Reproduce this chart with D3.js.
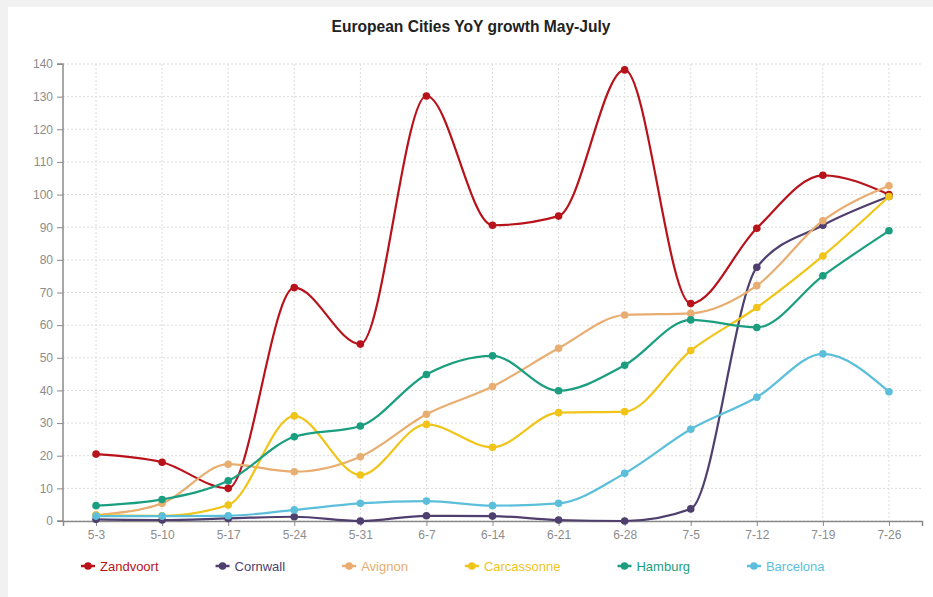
<!DOCTYPE html>
<html>
<head>
<meta charset="utf-8">
<script src="https://cdn.jsdelivr.net/npm/d3@7"></script>
<style>
  html, body { margin: 0; padding: 0; background: #f1f1f1; }
  svg { display: block; font-family: "Liberation Sans", Arial, Helvetica, sans-serif; }
</style>
</head>
<body>
<svg id="chart" width="933" height="597"></svg>
<script>
const categories = ["5-3","5-10","5-17","5-24","5-31","6-7","6-14","6-21","6-28","7-5","7-12","7-19","7-26"];
const seriesNames = ["Zandvoort","Cornwall","Avignon","Carcassonne","Hamburg","Barcelona"];
const seriesColors = ["#b8121b","#4e3f6e","#e8ad70","#f0c419","#1b9e80","#5bbfdc"];
const zandvoort   = [20.5, 18, 10, 71.5, 54.2, 130.2, 90.6, 93.4, 138.2, 66.6, 89.7, 105.9, 100];
const cornwall    = [0.5, 0.3, 0.8, 1.3, 0, 1.6, 1.5, 0.3, 0, 3.7, 77.7, 90.6, 99.4];
const avignon     = [1.8, 5.4, 17.4, 15.1, 19.7, 32.7, 41.2, 52.9, 63.1, 63.6, 72.1, 92, 102.7];
const carcassonne = [1.8, 1.6, 4.9, 32.2, 14.1, 29.6, 22.6, 33.2, 33.5, 52.2, 65.4, 81.2, 99.4];
const hamburg     = [4.7, 6.6, 12.3, 25.8, 29.1, 44.9, 50.6, 39.9, 47.7, 61.6, 59.3, 75.1, 88.9];
const barcelona   = [1.5, 1.5, 1.6, 3.4, 5.4, 6.1, 4.7, 5.4, 14.6, 28.1, 37.9, 51.2, 39.6];
const yTicks = [0,10,20,30,40,50,60,70,80,90,100,110,120,130,140];
const titleText = "European Cities YoY growth May-July";

const seriesValues = [zandvoort, cornwall, avignon, carcassonne, hamburg, barcelona];
const series = seriesNames.map((name, i) => ({ name, color: seriesColors[i], values: seriesValues[i] }));

const svg = d3.select("#chart");
const W = 933, H = 597;
const margin = { left: 63, right: 11, top: 64, bottom: 76 };
const plotW = W - margin.left - margin.right;
const plotH = H - margin.top - margin.bottom;

// background card
svg.append("rect").attr("x", 0).attr("y", 0).attr("width", W).attr("height", H).attr("fill", "#f1f1f1");
svg.append("rect").attr("x", 8).attr("y", 7).attr("width", W - 8).attr("height", H - 7).attr("fill", "#ffffff");

// title
svg.append("text")
  .attr("x", 471).attr("y", 32)
  .attr("text-anchor", "middle")
  .attr("font-size", 15.6).attr("font-weight", "bold")
  .attr("fill", "#222")
  .text(titleText);

const x = d3.scalePoint().domain(categories).range([0, plotW]).padding(0.5);
const y = d3.scaleLinear().domain([0, 140]).range([plotH, 0]);

const g = svg.append("g").attr("transform", `translate(${margin.left},${margin.top})`);

// grid
g.append("g").selectAll("line").data(yTicks).join("line")
  .attr("x1", 0).attr("x2", plotW)
  .attr("y1", d => y(d)).attr("y2", d => y(d))
  .attr("stroke", "#dcdcdc").attr("stroke-width", 1).attr("stroke-dasharray", "2,2");
g.append("g").selectAll("line").data(categories).join("line")
  .attr("x1", d => x(d)).attr("x2", d => x(d))
  .attr("y1", 0).attr("y2", plotH)
  .attr("stroke", "#dcdcdc").attr("stroke-width", 1).attr("stroke-dasharray", "2,2");

// axes
const yAxis = g.append("g").call(d3.axisLeft(y).tickValues(yTicks).tickSize(6).tickPadding(4));
const xAxis = g.append("g").attr("transform", `translate(0,${plotH})`)
  .call(d3.axisBottom(x).tickSize(5).tickPadding(4));
[yAxis, xAxis].forEach(a => {
  a.select(".domain").attr("stroke", "#8a8a8a").attr("stroke-width", 1.5);
  a.selectAll(".tick line").attr("stroke", "#8a8a8a").attr("stroke-width", 1);
  a.selectAll(".tick text").attr("fill", "#8c8c8c").attr("font-size", 12)
    .attr("font-family", "'Liberation Sans', Arial, sans-serif");
});
yAxis.select(".domain").attr("d", `M-6,0H0V${plotH}H-6`);

// lines
const line = d3.line()
  .x((d, i) => x(categories[i]))
  .y(d => y(d))
  .curve(d3.curveMonotoneX);

const sg = g.append("g").selectAll("g").data(series).join("g");
sg.append("path")
  .attr("d", d => line(d.values))
  .attr("fill", "none")
  .attr("stroke", d => d.color)
  .attr("stroke-width", 2.2);
sg.selectAll("circle").data(d => d.values.map((v, i) => ({ v, i, color: d.color }))).join("circle")
  .attr("cx", d => x(categories[d.i]))
  .attr("cy", d => y(d.v))
  .attr("r", 3.8)
  .attr("fill", d => d.color);

// legend (flow layout)
const legend = svg.append("g").attr("transform", "translate(0,566)");
let cx = 88;
series.forEach(s => {
  const it = legend.append("g");
  it.append("line").attr("x1", cx - 7).attr("x2", cx + 7).attr("y1", 0).attr("y2", 0)
    .attr("stroke", s.color).attr("stroke-width", 2.5);
  it.append("circle").attr("cx", cx).attr("cy", 0).attr("r", 3.8).attr("fill", s.color);
  const t = it.append("text").attr("x", cx + 12).attr("y", 0).attr("dy", "0.35em")
    .attr("font-size", 13).attr("fill", s.color).text(s.name);
  const w = t.node().getComputedTextLength();
  cx = cx + 12 + w + 64;
});
</script>
</body>
</html>
